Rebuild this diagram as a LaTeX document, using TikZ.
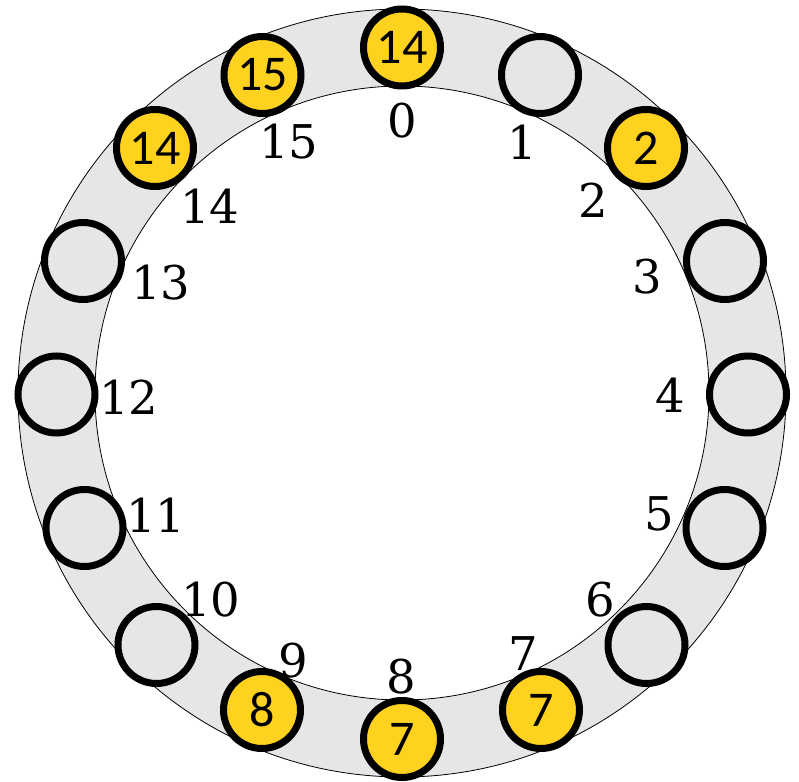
\documentclass[tikz,border=0pt]{standalone}
\usepackage{fontspec}
\setmainfont{DejaVu Serif}
\newfontfamily\slotfont{Carlito}
\definecolor{ringgray}{RGB}{230,230,230}
\definecolor{slotyellow}{RGB}{255,210,32}
\begin{document}
\begin{tikzpicture}[x=1pt,y=1pt,
  slot/.style={circle,draw=black,line width=7pt,minimum size=77pt,inner sep=0pt,fill=ringgray,font=\slotfont\fontsize{50}{52}\selectfont},
  full/.style={slot,fill=slotyellow},
  lbl/.style={inner sep=0pt,font=\fontsize{46.5}{48}\selectfont}]
\useasboundingbox (-402,-388) rectangle (397,393);
\fill[ringgray,even odd rule] (0,0) circle (384) (0,0) circle (307);
\draw[line width=0.8pt] (0,0) circle (384);
\draw[line width=0.8pt] (0,0) circle (307);
% slots
\foreach \i/\x/\y/\t/\s in {0/0/345.5/14/full,1/138/318//slot,2/244/245/2/full,3/323/132//slot,4/346/-1.5//slot,5/322.5/-135//slot,6/244.5/-252//slot,7/139/-317/7/full,8/0/-346/7/full,9/-140/-317/8/full,10/-245.5/-252//slot,11/-317.5/-135//slot,12/-345.5/-1.5//slot,13/-319/132//slot,14/-247/245/14/full,15/-139.5/318/15/full}{
  \node[\s] (s\i) at (\x,\y) {\t};
}
% labels
\foreach \i/\x/\y in {0/0/272,1/120.5/251,2/191/192.5,3/245.5/116,4/268.5/-2.5,5/257/-120.5,6/198/-207,7/121.5/-261,8/-1/-283.5,9/-108.5/-267.5,10/-191/-207,11/-246/-122.5,12/-273/-4.5,13/-241/110.5,14/-192/187,15/-113/251}{
  \node[lbl] (l\i) at (\x,\y) {\i};
}
\end{tikzpicture}
\end{document}
